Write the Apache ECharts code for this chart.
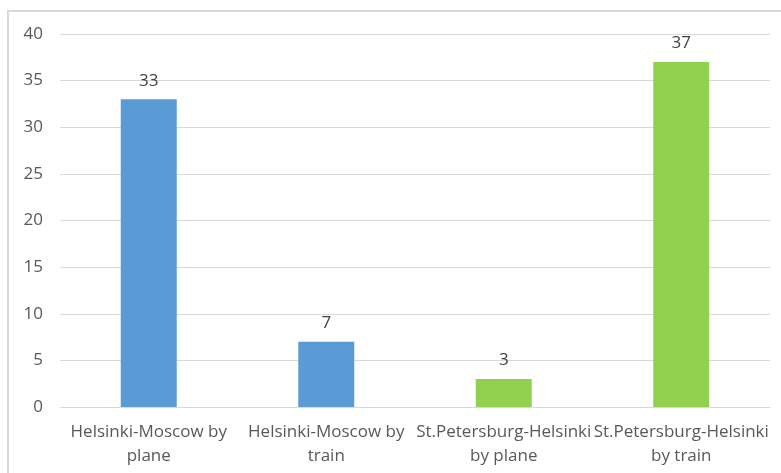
<!DOCTYPE html>
<html>
<head>
<meta charset="utf-8">
<script src="https://cdn.jsdelivr.net/npm/echarts@6/dist/echarts.min.js"></script>
<style>
  html, body { margin: 0; padding: 0; background: #fff; }
  #wrap { position: relative; width: 781px; height: 473px; overflow: hidden; }
  #frame { position: absolute; left: 7px; top: 10px; width: 820px; height: 520px; border: 2px solid #d9d9d9; }
  #chart { position: absolute; left: 0; top: 0; width: 781px; height: 473px; }
</style>
</head>
<body>
<div id="wrap">
  <div id="frame"></div>
  <div id="chart"></div>
</div>
<script>
const categories = [
  'Helsinki-Moscow by\nplane',
  'Helsinki-Moscow by\ntrain',
  'St.Petersburg-Helsinki\nby plane',
  'St.Petersburg-Helsinki\nby train'
];
const trips = [33, 7, 3, 37];
const barColors = ['#5b9bd5', '#5b9bd5', '#92d050', '#92d050'];

const chart = echarts.init(document.getElementById('chart'));

const options = {
  animation: false,
  grid: { left: 60, right: 11, top: 34, bottom: 66 },
  xAxis: {
    type: 'category',
    data: categories,
    axisLine: { lineStyle: { color: '#d9d9d9' } },
    axisTick: { show: false },
    axisLabel: {
      interval: 0,
      color: '#595959',
      fontFamily: 'Open Sans',
      fontSize: 17,
      lineHeight: 24,
      margin: 13
    }
  },
  yAxis: {
    type: 'value',
    min: 0,
    max: 40,
    interval: 5,
    axisLine: { show: false },
    axisTick: { show: false },
    splitLine: { lineStyle: { color: '#d9d9d9' } },
    axisLabel: {
      color: '#595959',
      fontFamily: 'Open Sans',
      fontSize: 17,
      margin: 17
    }
  },
  series: [
    {
      type: 'bar',
      barWidth: 56,
      data: trips.map((v, i) => ({ value: v, itemStyle: { color: barColors[i] } })),
      label: {
        show: true,
        position: 'top',
        distance: 10,
        color: '#404040',
        fontFamily: 'Open Sans',
        fontSize: 17
      }
    }
  ]
};

chart.setOption(options);
</script>
</body>
</html>
